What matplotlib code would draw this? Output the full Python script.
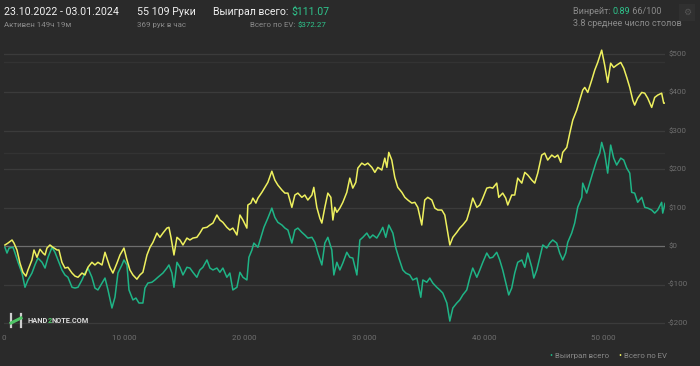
import matplotlib
matplotlib.use('Agg')
import numpy as np
from matplotlib import pyplot as plt
from matplotlib.lines import Line2D

# EV line (yellow): hands played, dollars
evHands = [
    80, 330, 670, 830, 1080, 1330, 1580, 1830, 2000, 2330, 2500, 2750, 3000,
    3250, 3420, 3580, 3830, 4080, 4420, 4580, 4830, 5080, 5330, 5670, 5920,
    6170, 6500, 6750, 7000, 7330, 7580, 7830, 8170, 8420, 8580, 8830, 9080,
    9420, 9670, 10000, 10250, 10500, 10750, 11080, 11330, 11580, 11920, 12170,
    12420, 12750, 13000, 13250, 13580, 13750, 13920, 14170, 14420, 14670,
    14920, 15250, 15500, 15750, 16080, 16330, 16580, 16920, 17170, 17420,
    17750, 18000, 18250, 18580, 18830, 19080, 19420, 19670, 19920, 20250,
    20330, 20580, 20750, 21000, 21170, 21500, 21750, 22000, 22330, 22580,
    22830, 23170, 23420, 23670, 24000, 24250, 24500, 24830, 25080, 25330,
    25670, 25830, 26080, 26330, 26500, 26750, 27000, 27250, 27420, 27580,
    27750, 28000, 28250, 28580, 28830, 29080, 29330, 29500, 29830, 30080,
    30330, 30670, 30920, 31170, 31500, 31750, 31920, 32080, 32330, 32580,
    32830, 33170, 33420, 33670, 34000, 34250, 34500, 34830, 35080, 35330,
    35670, 35920, 36170, 36500, 36750, 36920, 37170, 37420, 37750, 38000,
    38250, 38580, 38830, 39080, 39420, 39670, 39920, 40250, 40500, 40750,
    41080, 41250, 41580, 41830, 42000, 42330, 42580, 42830, 43170, 43420,
    43670, 44000, 44250, 44500, 44830, 45080, 45330, 45670, 45920, 46170,
    46420, 46580, 46920, 47170, 47420, 47750, 48000, 48250, 48420, 48670,
    49000, 49250, 49500, 49830, 50080, 50330, 50580, 50830, 51080, 51420,
    51670, 51920, 52170, 52420, 52580, 52830, 53170, 53420, 53670, 54000,
    54250, 54500, 54830, 55000, 55109,
]
evValues = [
    3, 8, 16, 8, -10, -44, -68, -78, -62, -36, -10, -29, -8,
    -18, -23, -5, 3, -3, -10, -10, -42, -57, -55, -70, -78,
    -81, -70, -75, -55, -42, -49, -42, -49, -16, -31, -55, -70,
    -44, -23, -5, -36, -62, -75, -86, -75, -68, -23, -3,
    10, 34, 23, 34, 47, 49, 23, -23, 23, 16,
    3, 21, 16, 21, 23, 34, 47, 49, 55, 60,
    81, 68, 62, 49, 42, 47, 29, 81, 68, 47,
    107, 112, 125, 112, 125, 140, 153, 166, 195, 172,
    159, 146, 138, 138, 101, 133, 138, 127, 133, 120,
    133, 153, 101, 73, 60, 101, 138, 127, 68, 101,
    88, 99, 114, 140, 177, 151, 166, 203, 216, 211,
    216, 205, 192, 205, 198, 229, 205, 244, 224, 179,
    153, 140, 127, 120, 112, 114, 101, 55, 120, 127,
    120, 99, 94, 94, 81, 49, 3, 23, 36, 47,
    55, 68, 94, 125, 101, 107, 125, 151, 153, 151,
    164, 127, 138, 125, 107, 133, 133, 177, 164, 192,
    185, 172, 164, 190, 237, 242, 224, 237, 231, 237,
    218, 244, 257, 294, 328, 354, 380, 406, 413, 400,
    432, 458, 478, 510, 471, 426, 476, 465, 471, 478,
    463, 439, 413, 380, 367, 385, 400, 398, 385, 361,
    387, 393, 398, 372, 372.27,
]

# won line (green)
wonHands = [
    80, 250, 420, 750, 920, 1170, 1500, 1750, 2000, 2330, 2580, 2830, 3170,
    3420, 3670, 4000, 4250, 4500, 4830, 5080, 5330, 5670, 5920, 6170, 6500,
    6750, 7000, 7330, 7580, 7830, 8170, 8420, 8670, 9000, 9250, 9500, 9830,
    10000, 10250, 10420, 10750, 11000, 11250, 11580, 11750, 12000, 12330,
    12580, 12830, 13250, 13580, 13750, 14000, 14170, 14420, 14670, 14920,
    15250, 15500, 15750, 16080, 16330, 16580, 16920, 17170, 17420, 17750,
    18000, 18250, 18580, 18830, 19080, 19420, 19670, 19920, 20250, 20420,
    20670, 20830, 21170, 21420, 21670, 22000, 22330, 22580, 22830, 23170,
    23420, 23670, 24000, 24250, 24500, 24830, 25080, 25330, 25670, 25920,
    26170, 26500, 26750, 27000, 27330, 27500, 27750, 28000, 28250, 28580,
    28830, 29080, 29420, 29670, 29920, 30250, 30500, 30750, 31080, 31330,
    31580, 31830, 32080, 32420, 32670, 32920, 33250, 33500, 33830, 34080,
    34420, 34750, 34920, 35250, 35500, 35750, 36080, 36330, 36580, 36920,
    37170, 37420, 37750, 38000, 38250, 38580, 38830, 39080, 39420, 39670,
    39920, 40250, 40500, 40750, 41080, 41330, 41580, 41920, 42080, 42330,
    42580, 42830, 43170, 43420, 43670, 44000, 44170, 44420, 44670, 44920,
    45250, 45500, 45750, 46080, 46330, 46580, 46830, 47000, 47330, 47580,
    47830, 48170, 48250, 48580, 48830, 49080, 49420, 49670, 49830, 50080,
    50330, 50580, 50830, 51080, 51420, 51670, 51920, 52170, 52330, 52580,
    52830, 53170, 53420, 53670, 54000, 54250, 54500, 54830, 54920, 55109,
]
wonValues = [
    -3, -18, -5, -3, -18, -42, -70, -107, -88, -70, -49, -31, -42,
    -57, -29, -3, -16, -36, -62, -75, -81, -107, -109, -107, -88,
    -70, -57, -81, -109, -114, -96, -83, -114, -161, -133, -70, -49,
    -36, -49, -114, -140, -135, -148, -148, -109, -96, -94,
    -88, -81, -70, -57, -49, -70, -107, -42, -55, -75,
    -55, -57, -68, -81, -62, -55, -36, -57, -62, -57,
    -68, -57, -81, -70, -114, -107, -68, -81, -88, -29,
    -10, 8, -3, 23, 49, 73, 99, 75, 62, 55,
    47, 42, 8, 42, 47, 36, 29, 21, 23, 10,
    -18, -49, 8, 23, -10, -75, -42, -62, -44, -16,
    -29, -31, -75, 16, 23, 34, 21, 29, 21, 34,
    49, 23, 55, 34, -5, -31, -62, -70, -75, -88,
    -83, -133, -88, -94, -83, -96, -107, -114, -122, -148,
    -195, -161, -148, -140, -127, -114, -83, -57, -81, -62,
    -42, -18, -31, -29, -16, -36, -62, -107, -127, -109,
    -70, -42, -36, -55, -18, -55, -83, -62, -29, 3,
    -5, 8, 16, 8, -18, -36, -18, 10, 34, 60,
    101, 127, 164, 138, 164, 190, 224, 242, 270, 242,
    190, 263, 229, 211, 229, 224, 203, 190, 140, 138,
    114, 127, 101, 99, 94, 86, 94, 114, 86, 111.07,
]

yTicks = [-200, -100, 0, 100, 200, 300, 400, 500]
yTickLabels = ['-$200', '-$100', '$0', '$100', '$200', '$300', '$400', '$500']
xTicks = [0, 10000, 20000, 30000, 40000, 50000]
xTickLabels = ['0', '10 000', '20 000', '30 000', '40 000', '50 000']

W, H = 700, 366
BG = '#2a2a2a'
GREEN = '#1fb486'
YELLOW = '#eef05e'
TEXTGREEN = '#2ec48c'
GRAY = '#8a8a8a'
WHITE = '#f0f0f0'
LOGOGREEN = '#4fc466'

plt.rcParams['font.family'] = ['Roboto', 'DejaVu Sans']

fig = plt.figure(figsize=(W / 100, H / 100), dpi=100, facecolor=BG)
renderer = fig.canvas.get_renderer()


def fx(px):
    return px / W


def fy(py):
    return 1 - py / H


def textWidth(s, size, weight):
    t = fig.text(0, 0, s, fontsize=size, fontweight=weight)
    w = t.get_window_extent(renderer).width
    t.remove()
    return w


def chain(px, py, parts, size, weight='normal', align='left'):
    # coloured pieces; each one starts where it would in the whole string
    full = ''.join(s for s, c in parts)
    total = textWidth(full, size, weight)
    x0 = px - total if align == 'right' else px
    prefix = ''
    for s, c in parts:
        off = 0
        if prefix:
            off = textWidth(prefix + s, size, weight) - textWidth(s, size, weight)
        fig.text(fx(x0 + off), fy(py), s, fontsize=size, color=c,
                 fontweight=weight, va='center', ha='left')
        prefix += s


ax = fig.add_axes([fx(4), fy(330), fx(661), 290 / H])
ax.set_facecolor(BG)
ax.set_xlim(0, 55109)
ax.set_ylim(-218.2, 536.4)

for v in yTicks:
    color = '#6e6e6e' if v == 0 else '#3b3b3b'
    ax.axhline(v, color=color, linewidth=0.9, zorder=1)
# faint secondary grid
for v in [242, 479]:
    ax.axhline(v, color='#333333', linewidth=0.9, zorder=1)

ax.plot(wonHands, wonValues, color=GREEN, linewidth=1.1, zorder=3)
ax.plot(evHands, evValues, color=YELLOW, linewidth=1.1, zorder=4)

for s in ax.spines.values():
    s.set_visible(False)
ax.set_xticks([])
ax.set_yticks([])

for v, lab in zip(yTicks, yTickLabels):
    ax.text(1.005, (v + 218.2) / (536.4 + 218.2), lab, transform=ax.transAxes,
            ha='left', va='center', fontsize=5.8, color='#6f6f6f')
for v, lab in zip(xTicks, xTickLabels):
    ax.text(v, -218.2 - 20, lab, ha='center', va='center',
            fontsize=5.8, color='#6f6f6f', clip_on=False)

# header
chain(4, 12, [('23.10.2022 - 03.01.2024', WHITE)], 7.7)
chain(4, 25, [('Активен 149ч 19м', GRAY)], 5.7)
chain(137, 12, [('55 109 Руки', WHITE)], 7.7)
chain(137, 25, [('369 рук в час', GRAY)], 5.7)
chain(213, 12, [('Выиграл всего: ', WHITE), ('$111.07', TEXTGREEN)], 7.6)
chain(326, 25, [('Всего по EV: ', GRAY), ('$372.27', TEXTGREEN)], 5.7,
      align='right')
chain(573, 12, [('Винрейт: ', GRAY), ('0.89', TEXTGREEN), (' 66/100', GRAY)],
      6.5)
chain(573, 24, [('3.8 среднее число столов', GRAY)], 6.5)

fig.patches.append(plt.Rectangle((fx(679), fy(21)), fx(16), 17 / H,
                                 transform=fig.transFigure,
                                 facecolor='#303030', edgecolor='none'))
fig.text(fx(687), fy(12.5), '\u2699', fontsize=6.5, color='#555555',
         va='center', ha='center', family=['DejaVu Sans'])

# logo
fig.lines.append(Line2D([fx(11), fx(11)], [fy(314), fy(327)],
                        transform=fig.transFigure, color='#cfcfcf', lw=1.6))
fig.lines.append(Line2D([fx(21), fx(21)], [fy(314), fy(327)],
                        transform=fig.transFigure, color='#cfcfcf', lw=1.6))
fig.lines.append(Line2D([fx(11), fx(21)], [fy(323), fy(318)],
                        transform=fig.transFigure, color=LOGOGREEN, lw=2.2))
chain(27, 321, [('HAND', '#dddddd'), ('2', LOGOGREEN), ('NOTE.COM', '#dddddd')],
      5.3, weight='bold')

# legend
fig.text(fx(551), fy(356), '\u2022', fontsize=6.5, color=GREEN,
         va='center', ha='center')
chain(555, 356, [('Выиграл всего', GRAY)], 5.6)
fig.text(fx(620), fy(356), '\u2022', fontsize=6.5, color=YELLOW,
         va='center', ha='center')
chain(624, 356, [('Всего по EV', GRAY)], 5.6)

fig.savefig('out.png', dpi=100, facecolor=BG)
